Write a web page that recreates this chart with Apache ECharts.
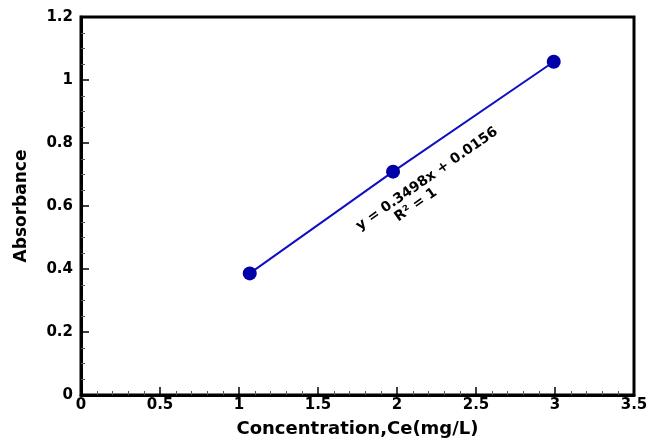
<!DOCTYPE html>
<html><head><meta charset="utf-8">
<script src="https://cdn.jsdelivr.net/npm/echarts@6/dist/echarts.min.js"></script>
<style>html,body{margin:0;padding:0;background:#fff}#c{width:648px;height:440px}</style>
</head><body><div id="c"></div>
<script>
var concentration = [1.068, 1.975, 2.992];
var absorbance = [0.386, 0.709, 1.058];
var xTicks = [0, 0.5, 1, 1.5, 2, 2.5, 3, 3.5];
var yTicks = [0, 0.2, 0.4, 0.6, 0.8, 1, 1.2];
var equationText = 'y = 0.3498x + 0.0156';
var r2Text = 'R² = 1';

var pts = concentration.map(function(x,i){return [x, absorbance[i]];});
var chart = echarts.init(document.getElementById('c'));
var font = 'DejaVu Sans, sans-serif';
var rot = 35*Math.PI/180;
chart.setOption({
  animation:false,
  grid:{left:81,right:14,top:17,bottom:45,outerBoundsMode:'none',containLabel:false,show:true,borderColor:'#000',borderWidth:3,backgroundColor:'#fff'},
  xAxis:{type:'value',min:0,max:3.5,interval:0.5,
    name:'Concentration,Ce(mg/L)',nameLocation:'middle',nameGap:25,
    nameTextStyle:{fontFamily:font,fontWeight:'bold',fontSize:18,color:'#000'},
    axisLine:{show:true,lineStyle:{color:'#000',width:3}},
    axisTick:{show:true,inside:true,length:8,lineStyle:{color:'#000',width:1.5}},
    minorTick:{show:true,splitNumber:5,length:4,lineStyle:{color:'#555',width:1}},
    splitLine:{show:false},
    axisLabel:{fontFamily:font,fontWeight:'bold',fontSize:15,color:'#000',margin:3,
      formatter:function(v){return xTicks.indexOf(v)>=0?String(v):'';}}
  },
  yAxis:{type:'value',min:0,max:1.2,interval:0.2,
    name:'Absorbance',nameLocation:'middle',nameGap:51,
    nameTextStyle:{fontFamily:font,fontWeight:'bold',fontSize:17,color:'#000'},
    axisLine:{show:true,lineStyle:{color:'#000',width:3}},
    axisTick:{show:true,inside:true,length:8,lineStyle:{color:'#000',width:1.5}},
    minorTick:{show:true,splitNumber:4,length:4,lineStyle:{color:'#555',width:1}},
    splitLine:{show:false},
    axisLabel:{fontFamily:font,fontWeight:'bold',fontSize:15,color:'#000',margin:8,
      formatter:function(v){var r=Math.round(v*10)/10;return yTicks.indexOf(r)>=0?String(r):'';}}
  },
  series:[{type:'line',data:pts,symbol:'circle',symbolSize:14,
    lineStyle:{color:'#1010C0',width:2},itemStyle:{color:'#0000A8'}}],
  graphic:[
    {type:'text',x:427,y:179,rotation:rot,style:{text:equationText,x:0,y:0,align:'center',verticalAlign:'middle',fontFamily:font,fontWeight:'bold',fontSize:14,fill:'#000'}},
    {type:'text',x:416,y:205,rotation:rot,style:{text:r2Text,x:0,y:0,align:'center',verticalAlign:'middle',fontFamily:font,fontWeight:'bold',fontSize:14,fill:'#000'}}
  ]
});
</script></body></html>
